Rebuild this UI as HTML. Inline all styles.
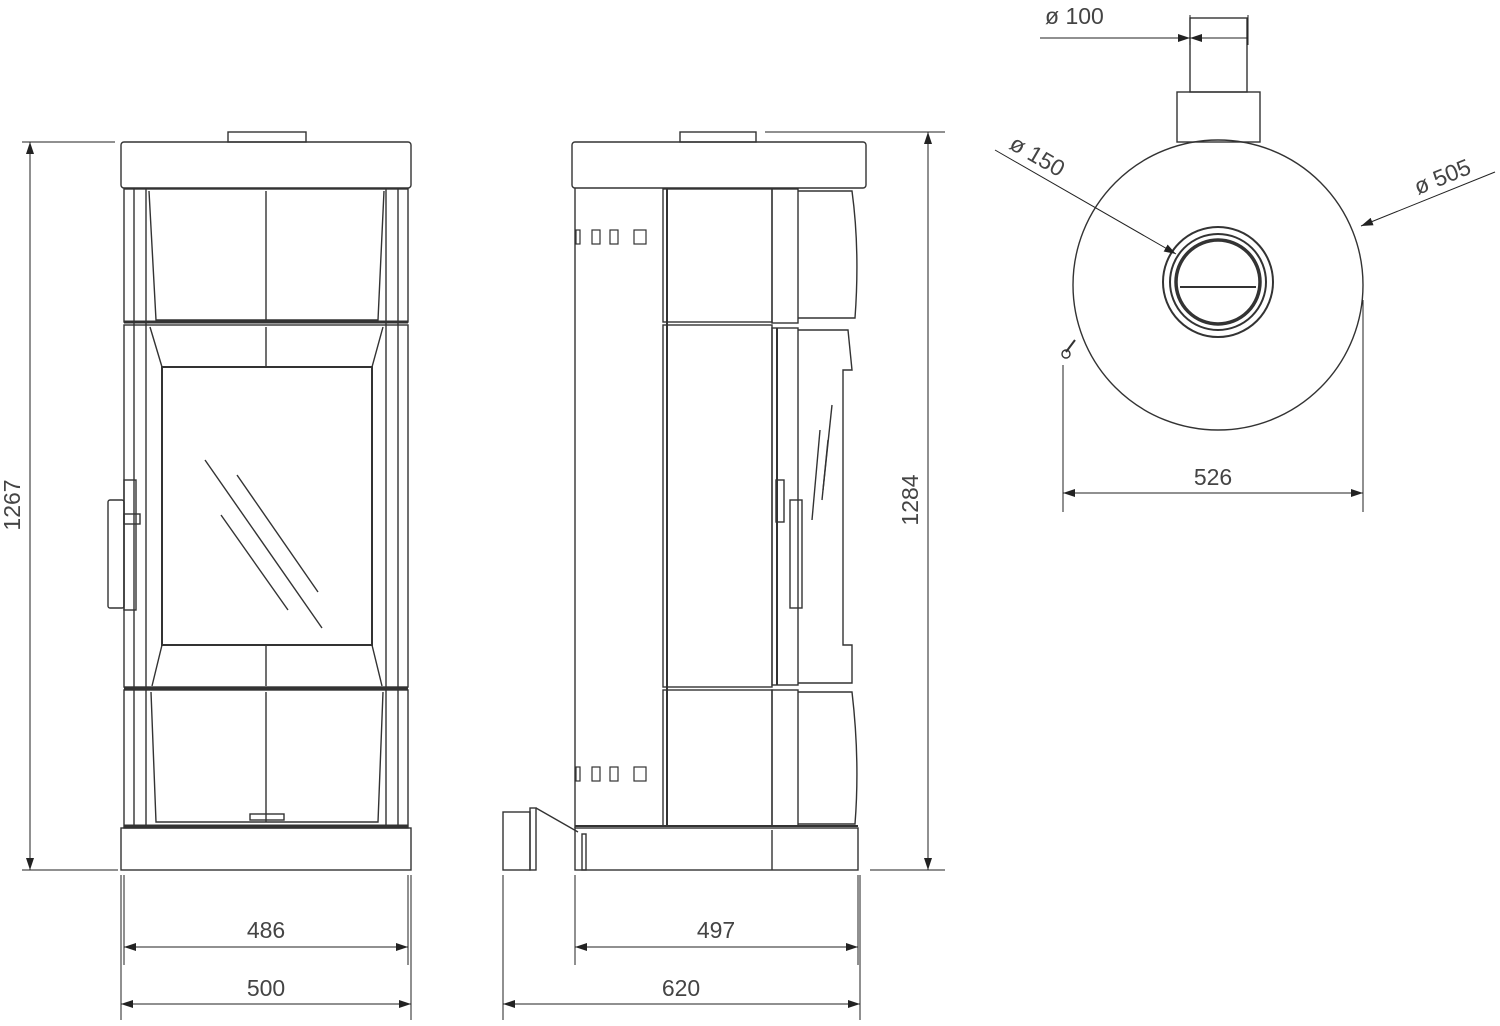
<!DOCTYPE html>
<html><head><meta charset="utf-8"><style>
html,body{margin:0;padding:0;background:#fff}
svg{display:block}
text{font-family:"Liberation Sans",sans-serif;font-size:23px;fill:#444}
</style></head><body>
<svg width="1500" height="1026" viewBox="0 0 1500 1026" xmlns="http://www.w3.org/2000/svg">
<defs>
<marker id="a" viewBox="0 0 12 8" refX="12" refY="4" markerWidth="12" markerHeight="8" orient="auto-start-reverse" markerUnits="userSpaceOnUse"><path d="M0,0 L12,4 L0,8 z" fill="#222"/></marker>
</defs>
<g fill="none" stroke="#333" stroke-width="1.4">
<!-- FRONT VIEW -->
<rect x="228" y="132" width="78" height="10"/>
<rect x="121" y="142" width="290" height="46" rx="3"/>
<rect x="124" y="189" width="284" height="133"/>
<rect x="124" y="325" width="284" height="362"/>
<rect x="124" y="690" width="284" height="138"/>
<line x1="134" y1="189" x2="134" y2="828"/><line x1="398" y1="189" x2="398" y2="828"/>
<line x1="146" y1="189" x2="146" y2="828"/><line x1="386" y1="189" x2="386" y2="828"/>
<path d="M149,191 L156,320 L378,320 L384,191"/>
<line x1="266" y1="191" x2="266" y2="320"/>
<line x1="124" y1="322" x2="408" y2="322" stroke-width="3"/>
<path d="M150,327 L162,367 L372,367 L383,327"/>
<line x1="266" y1="327" x2="266" y2="367"/>
<rect x="162" y="367" width="210" height="278" stroke-width="2"/>
<path d="M162,645 L152,686 M372,645 L382,686"/>
<line x1="266" y1="645" x2="266" y2="686"/>
<line x1="124" y1="688" x2="408" y2="688" stroke-width="3"/>
<path d="M151,692 L156,822 L378,822 L383,692"/>
<line x1="266" y1="692" x2="266" y2="822"/>
<rect x="250" y="814" width="34" height="6"/>
<line x1="124" y1="826" x2="408" y2="826" stroke-width="3"/>
<rect x="121" y="828" width="290" height="42"/>
<line x1="205" y1="460" x2="322" y2="628"/><line x1="237" y1="475" x2="318" y2="592"/>
<line x1="221" y1="515" x2="288" y2="610"/>
<rect x="108" y="500" width="16" height="108" rx="2"/>
<rect x="124" y="480" width="12" height="130"/>
<rect x="124" y="514" width="16" height="10"/>
<!-- SIDE VIEW -->
<rect x="680" y="132" width="76" height="10"/>
<rect x="572" y="142" width="294" height="46" rx="3"/>
<line x1="575" y1="188" x2="575" y2="828"/>
<rect x="663" y="189" width="109" height="133"/>
<rect x="663" y="325" width="109" height="362"/>
<rect x="663" y="690" width="109" height="136"/>
<line x1="667" y1="189" x2="667" y2="826" stroke-width="2"/>
<rect x="772" y="189" width="26" height="134"/>
<path d="M798,191 L852,191 Q860,250 855,318 L798,318"/>
<rect x="772" y="328" width="26" height="357"/>
<line x1="777" y1="328" x2="777" y2="685" stroke-width="2"/>
<path d="M798,330 L848,330 L852,370 L843,370 L843,645 L852,645 L852,683 L798,683"/>
<rect x="772" y="690" width="26" height="136"/>
<path d="M798,692 L852,692 Q860,760 855,824 L798,824"/>
<line x1="820" y1="430" x2="812" y2="520"/><line x1="832" y1="405" x2="823" y2="490"/><line x1="828" y1="440" x2="822" y2="500"/>
<rect x="790" y="500" width="12" height="108"/>
<rect x="776" y="480" width="8" height="42"/>
<g stroke-width="1.2">
<rect x="576" y="230" width="4" height="14"/><rect x="592" y="230" width="8" height="14"/><rect x="610" y="230" width="8" height="14"/><rect x="634" y="230" width="12" height="14"/>
<rect x="576" y="767" width="4" height="14"/><rect x="592" y="767" width="8" height="14"/><rect x="610" y="767" width="8" height="14"/><rect x="634" y="767" width="12" height="14"/>
</g>
<line x1="575" y1="826" x2="858" y2="826" stroke-width="2"/>
<rect x="575" y="828" width="283" height="42"/>
<line x1="772" y1="830" x2="772" y2="870"/>
<rect x="503" y="812" width="27" height="58"/>
<rect x="530" y="808" width="6" height="62"/>
<path d="M536,808 L578,832"/>
<rect x="582" y="834" width="4" height="36"/>
<!-- TOP VIEW -->
<rect x="1190" y="18" width="57" height="74"/>
<rect x="1177" y="92" width="83" height="50"/>
<circle cx="1218" cy="285" r="145"/>
<circle cx="1218" cy="282" r="55" stroke-width="2"/>
<circle cx="1218" cy="282" r="48" stroke-width="2"/>
<circle cx="1218" cy="282" r="42" stroke-width="3.5"/>
<line x1="1180" y1="287" x2="1256" y2="287" stroke-width="2"/>
<line x1="1075" y1="340" x2="1066" y2="352" stroke-width="2"/><circle cx="1066" cy="354" r="4"/>
<!-- DIMENSIONS -->
<g stroke="#222" stroke-width="1">
<line x1="22" y1="142" x2="115" y2="142"/><line x1="22" y1="870" x2="118" y2="870"/>
<line x1="30" y1="142" x2="30" y2="870" marker-start="url(#a)" marker-end="url(#a)"/>
<line x1="124" y1="875" x2="124" y2="965"/><line x1="408" y1="875" x2="408" y2="965"/>
<line x1="124" y1="947" x2="408" y2="947" marker-start="url(#a)" marker-end="url(#a)"/>
<line x1="121" y1="875" x2="121" y2="1020"/><line x1="411" y1="875" x2="411" y2="1020"/>
<line x1="121" y1="1004" x2="411" y2="1004" marker-start="url(#a)" marker-end="url(#a)"/>
<line x1="765" y1="132" x2="945" y2="132"/><line x1="870" y1="870" x2="945" y2="870"/>
<line x1="928" y1="132" x2="928" y2="870" marker-start="url(#a)" marker-end="url(#a)"/>
<line x1="575" y1="875" x2="575" y2="965"/><line x1="858" y1="875" x2="858" y2="965"/>
<line x1="575" y1="947" x2="858" y2="947" marker-start="url(#a)" marker-end="url(#a)"/>
<line x1="503" y1="875" x2="503" y2="1020"/><line x1="860" y1="875" x2="860" y2="1020"/>
<line x1="503" y1="1004" x2="860" y2="1004" marker-start="url(#a)" marker-end="url(#a)"/>
<line x1="1040" y1="38" x2="1190" y2="38" marker-end="url(#a)"/>
<line x1="1248" y1="38" x2="1190" y2="38" marker-end="url(#a)"/>
<line x1="1190" y1="15" x2="1190" y2="45"/><line x1="1248" y1="15" x2="1248" y2="45"/>
<line x1="995" y1="150" x2="1176" y2="254" marker-end="url(#a)"/>
<line x1="1495" y1="172" x2="1361" y2="226" marker-end="url(#a)"/>
<line x1="1063" y1="365" x2="1063" y2="512"/><line x1="1363" y1="300" x2="1363" y2="512"/>
<line x1="1063" y1="493" x2="1363" y2="493" marker-start="url(#a)" marker-end="url(#a)"/>
</g>
</g>
<text x="266" y="938" text-anchor="middle">486</text>
<text x="266" y="996" text-anchor="middle">500</text>
<text x="716" y="938" text-anchor="middle">497</text>
<text x="681" y="996" text-anchor="middle">620</text>
<text transform="translate(20,505) rotate(-90)" text-anchor="middle">1267</text>
<text transform="translate(918,500) rotate(-90)" text-anchor="middle">1284</text>
<text x="1213" y="485" text-anchor="middle">526</text>
<text x="1045" y="24">ø 100</text>
<text transform="translate(1008,148) rotate(30)">ø 150</text>
<text transform="translate(1418,195) rotate(-22)">ø 505</text>
</svg>
</body></html>
